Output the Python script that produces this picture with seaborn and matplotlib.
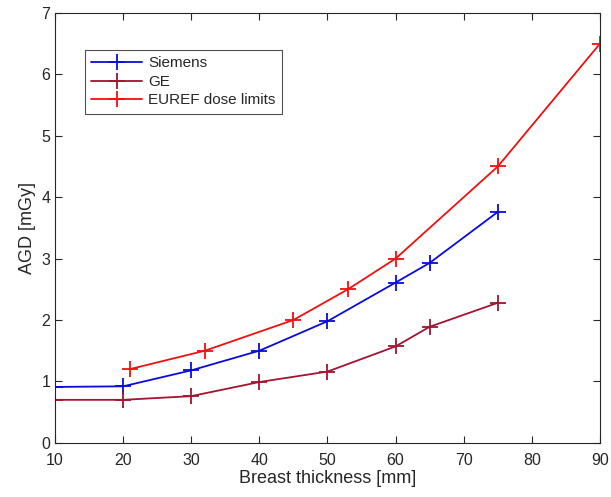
import pandas as pd
import matplotlib
matplotlib.use("Agg")
import matplotlib.pyplot as plt
import seaborn as sns

siemens_x = [10, 20, 30, 40, 50, 60, 65, 75]
siemens_y = [0.91, 0.92, 1.18, 1.50, 1.98, 2.61, 2.93, 3.76]
ge_x = [10, 20, 30, 40, 50, 60, 65, 75]
ge_y = [0.70, 0.70, 0.76, 0.99, 1.16, 1.57, 1.89, 2.28]
euref_x = [21, 32, 45, 53, 60, 75, 90]
euref_y = [1.20, 1.50, 2.00, 2.50, 3.00, 4.50, 6.50]

sns.set_style("ticks")
plt.rcParams["font.family"] = ["Liberation Sans", "DejaVu Sans"]

df = pd.concat([
    pd.DataFrame({"x": siemens_x, "y": siemens_y, "serie": "Siemens"}),
    pd.DataFrame({"x": ge_x, "y": ge_y, "serie": "GE"}),
    pd.DataFrame({"x": euref_x, "y": euref_y, "serie": "EUREF dose limits"}),
])

colores = {"Siemens": "#0a0ae0", "GE": "#a2142f", "EUREF dose limits": "#f01010"}

fig = plt.figure(figsize=(6.11, 4.97), dpi=100)
ax = fig.add_axes([0.090, 0.109, 0.892, 0.865])

for serie in ["Siemens", "GE", "EUREF dose limits"]:
    sns.lineplot(data=df[df["serie"] == serie], x="x", y="y", ax=ax,
                 color=colores[serie], marker="+", markersize=12,
                 markeredgewidth=1.3, markeredgecolor=colores[serie],
                 linewidth=1.3, label=serie, sort=False)

ax.set_xlim(10, 90)
ax.set_ylim(0, 7)
ax.set_xticks(range(10, 91, 10))
ax.set_yticks(range(0, 8))
ax.set_xlabel("Breast thickness [mm]", fontsize=13, color="#262626", labelpad=2)
ax.set_ylabel("AGD [mGy]", fontsize=13, color="#262626")
ax.tick_params(direction="in", top=True, right=True, labelsize=11.5,
               colors="#262626", length=5)
ax.tick_params(axis="x", pad=7)
for s in ax.spines.values():
    s.set_color("#262626")
    s.set_linewidth(0.8)

leg = ax.legend(loc="upper left", bbox_to_anchor=(0.055, 0.914), fontsize=11,
                frameon=True, fancybox=False, edgecolor="#262626",
                handlelength=3.3, borderaxespad=0, labelspacing=0.3,
                borderpad=0.42, handletextpad=0.4)
leg.get_frame().set_linewidth(0.8)

fig.savefig("out.png", dpi=100)
